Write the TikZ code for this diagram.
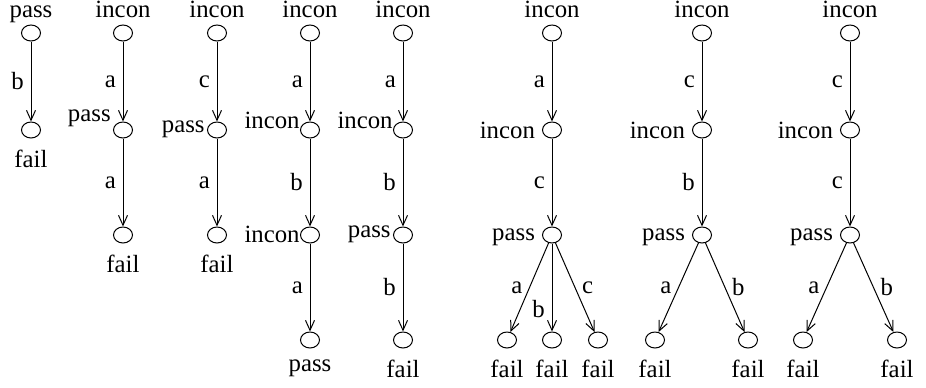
\documentclass[tikz,border=0pt]{standalone}
\usepackage{fontspec}
\setmainfont{Liberation Serif}
\usetikzlibrary{shapes.geometric,arrows.meta}

\begin{document}
\begin{tikzpicture}[x=0.5pt,y=-0.5pt,
    font=\fontsize{12.4}{14}\selectfont,
    st/.style={draw,ellipse,line width=0.5pt,inner sep=0pt,minimum width=9.5pt,minimum height=8pt},
    tr/.style={-{Straight Barb[length=5pt,width=4.5pt]},line width=0.5pt},
    ab/.style={label={[text depth=0pt]above:#1}},
    bl/.style={label={[label distance=2pt]below:#1}},
    lf/.style={label={[text depth=0pt]left:#1}}]
    \useasboundingbox (0,0) rectangle (926,387);
    % tree 1
    \node[st,ab=pass] (t1a) at (31,33) {};
    \node[st,bl=fail] (t1b) at (31,130) {};
    \draw[tr] (t1a) -- node[left]{b} (t1b);
    % tree 2
    \node[st,ab=incon] (t2a) at (123,33) {};
    \node[st,label={[inner sep=1pt]174:pass}] (t2b) at (123,130) {};
    \node[st,bl=fail] (t2c) at (123,235) {};
    \draw[tr] (t2a) -- node[left]{a} (t2b);
    \draw[tr] (t2b) -- node[left]{a} (t2c);
    % tree 3
    \node[st,ab=incon] (t3a) at (217,33) {};
    \node[st,label={[inner sep=1pt]178:pass}] (t3b) at (217,130) {};
    \node[st,bl=fail] (t3c) at (217,235) {};
    \draw[tr] (t3a) -- node[left]{c} (t3b);
    \draw[tr] (t3b) -- node[left]{a} (t3c);
    % tree 4
    \node[st,ab=incon] (t4a) at (310,33) {};
    \node[st,label={[inner sep=0pt]177:incon}] (t4b) at (310,130) {};
    \node[st,label={[inner sep=0pt]178:incon}] (t4c) at (310,235) {};
    \node[st,bl=pass] (t4d) at (310,340) {};
    \draw[tr] (t4a) -- node[left]{a} (t4b);
    \draw[tr] (t4b) -- node[left]{b} (t4c);
    \draw[tr] (t4c) -- node[left]{a} (t4d);
    % tree 5
    \node[st,ab=incon] (t5a) at (403,33) {};
    \node[st,label={[inner sep=0pt]177:incon}] (t5b) at (403,130) {};
    \node[st,label={[inner sep=1pt]178:pass}] (t5c) at (403,235) {};
    \node[st,bl=fail] (t5d) at (403,340) {};
    \draw[tr] (t5a) -- node[left]{a} (t5b);
    \draw[tr] (t5b) -- node[left]{b} (t5c);
    \draw[tr] (t5c) -- node[left]{b} (t5d);
    % tree 6
    \node[st,ab=incon] (t6a) at (552,33) {};
    \node[st,lf=incon] (t6b) at (552,130) {};
    \node[st,lf=pass] (t6c) at (552,235) {};
    \node[st,bl=fail] (t6d) at (507,340) {};
    \node[st,bl=fail] (t6e) at (552,340) {};
    \node[st,bl=fail] (t6f) at (598,340) {};
    \draw[tr] (t6a) -- node[left]{a} (t6b);
    \draw[tr] (t6b) -- node[left]{c} (t6c);
    \draw[tr] (t6c) -- node[left]{a} (t6d);
    \draw[tr] (t6c) -- node[pos=0.75,left]{b} (t6e);
    \draw[tr] (t6c) -- node[right]{c} (t6f);
    % tree 7
    \node[st,ab=incon] (t7a) at (702,33) {};
    \node[st,lf=incon] (t7b) at (702,130) {};
    \node[st,lf=pass] (t7c) at (702,235) {};
    \node[st,bl=fail] (t7d) at (655,340) {};
    \node[st,bl=fail] (t7e) at (748,340) {};
    \draw[tr] (t7a) -- node[left]{c} (t7b);
    \draw[tr] (t7b) -- node[left]{b} (t7c);
    \draw[tr] (t7c) -- node[left]{a} (t7d);
    \draw[tr] (t7c) -- node[right]{b} (t7e);
    % tree 8
    \node[st,ab=incon] (t8a) at (850,33) {};
    \node[st,lf=incon] (t8b) at (850,130) {};
    \node[st,lf=pass] (t8c) at (850,235) {};
    \node[st,bl=fail] (t8d) at (803,340) {};
    \node[st,bl=fail] (t8e) at (897,340) {};
    \draw[tr] (t8a) -- node[left]{c} (t8b);
    \draw[tr] (t8b) -- node[left]{c} (t8c);
    \draw[tr] (t8c) -- node[left]{a} (t8d);
    \draw[tr] (t8c) -- node[right]{b} (t8e);
\end{tikzpicture}
\end{document}
